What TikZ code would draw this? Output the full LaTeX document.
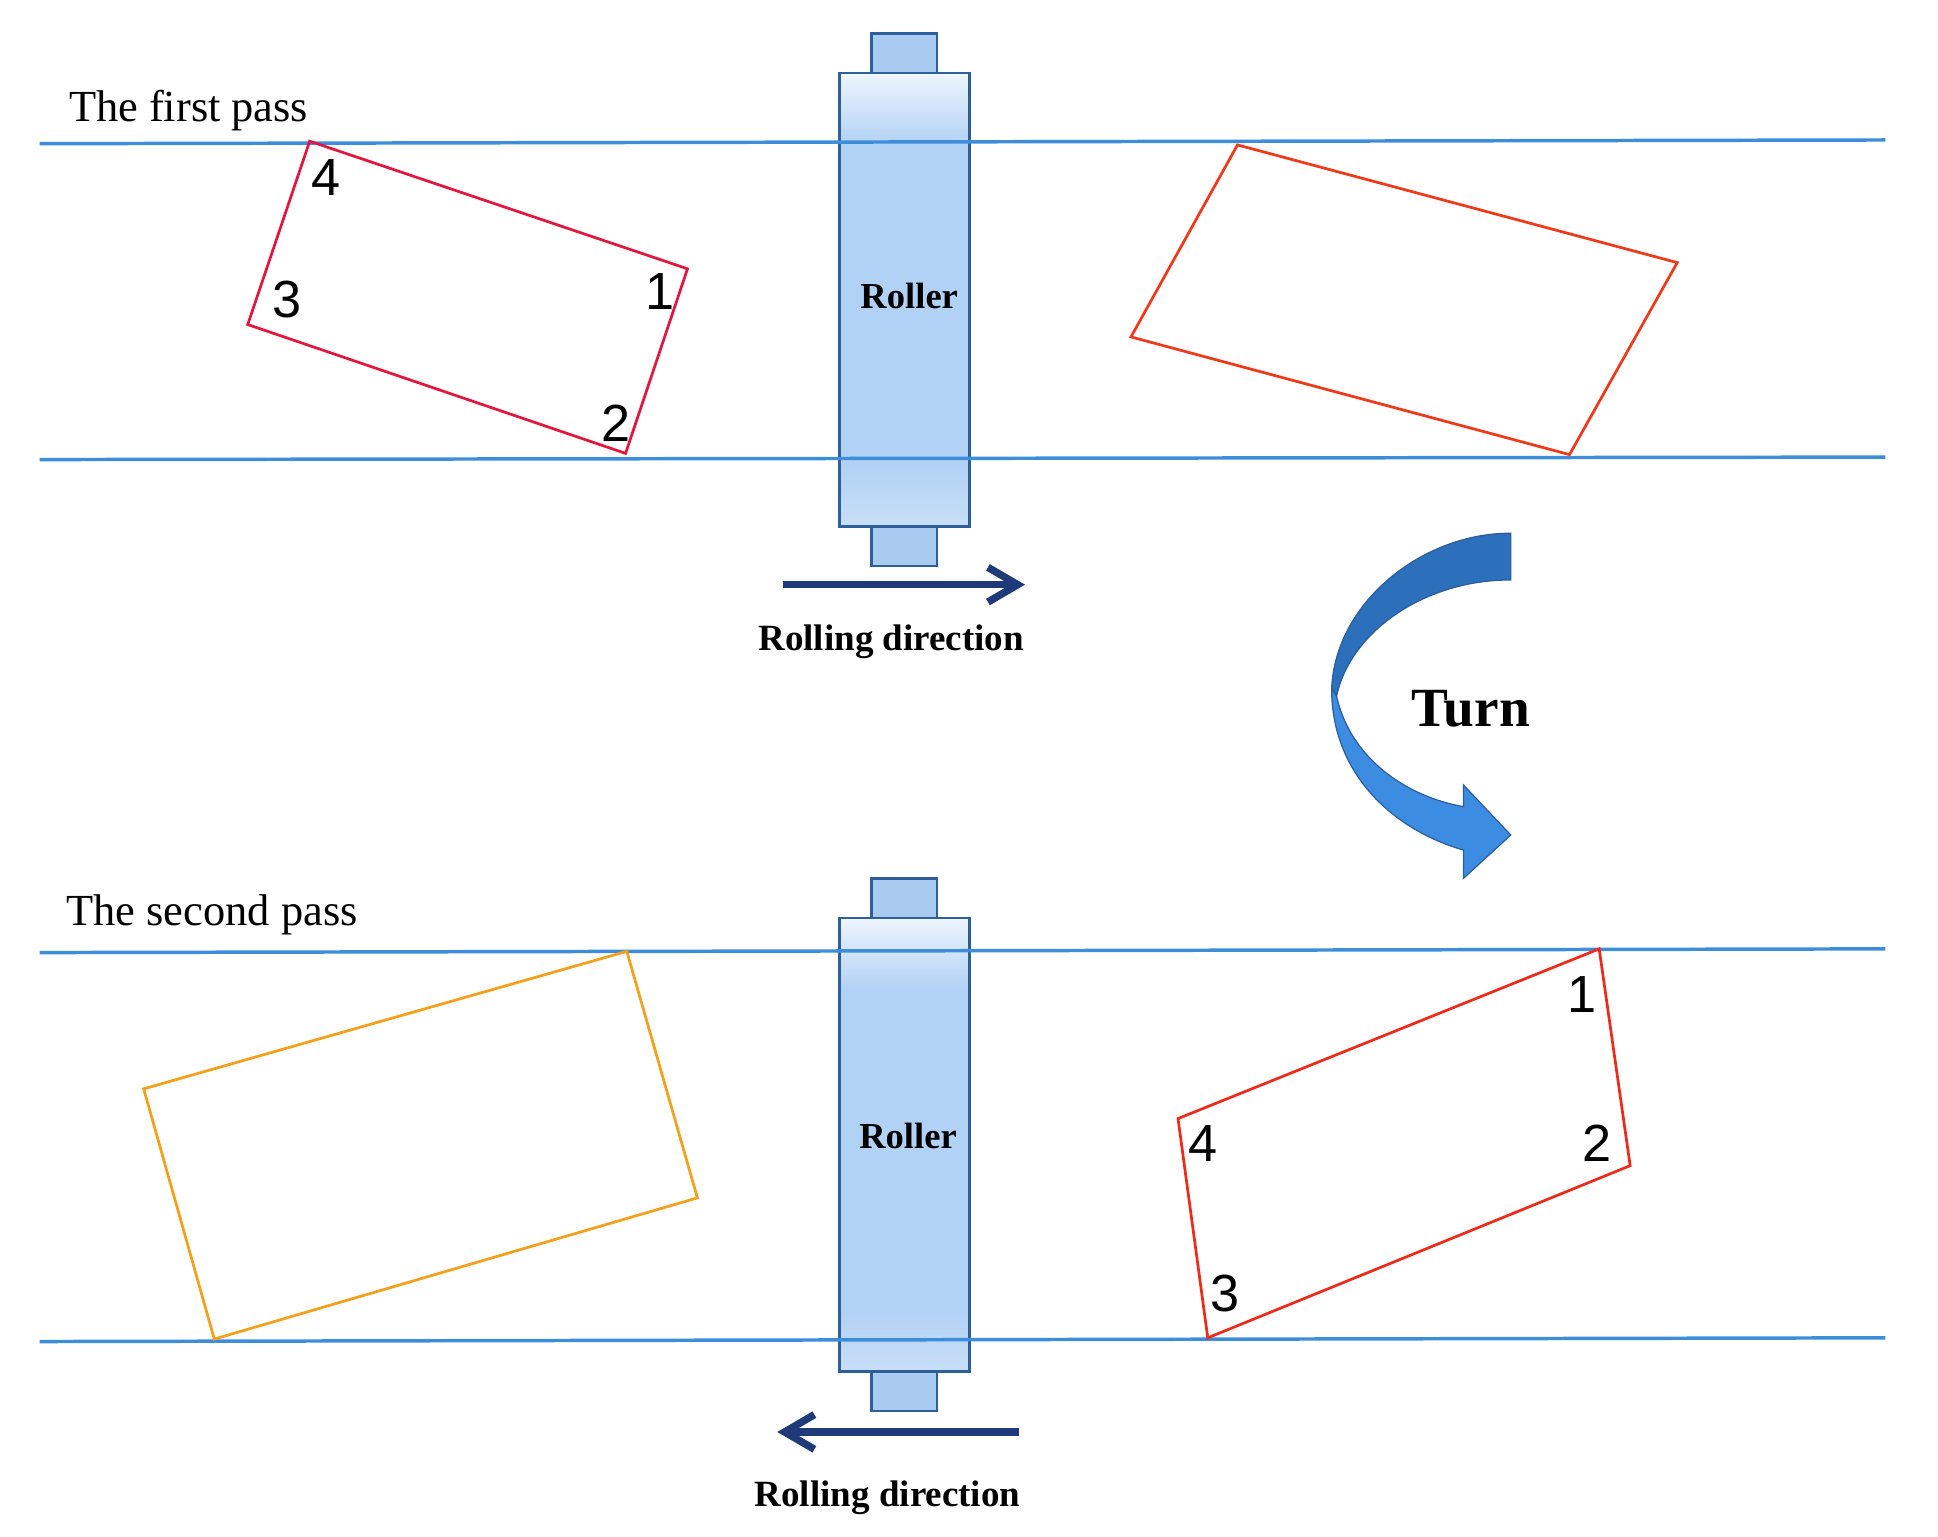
\documentclass[tikz,border=0pt]{standalone}
\usepackage{fontspec}
\setmainfont{Liberation Serif}
\setsansfont{Liberation Sans}
\usetikzlibrary{positioning, arrows.meta}

\definecolor{passblue}{HTML}{3E8DDB}
\definecolor{rollerline}{HTML}{2F5F9A}
\definecolor{rollertop}{HTML}{EEF5FD}
\definecolor{rollermid}{HTML}{B1D1F5}
\definecolor{rollerbot}{HTML}{C8DEF7}
\definecolor{capfill}{HTML}{A9CBF0}
\definecolor{dirnavy}{HTML}{1E3A78}
\definecolor{sampleA}{HTML}{E3173E}
\definecolor{sampleB}{HTML}{F0391A}
\definecolor{sampleC}{HTML}{F5A01A}
\definecolor{sampleD}{HTML}{EE2A1A}
\definecolor{turnback}{HTML}{2C6FBA}
\definecolor{turnfront}{HTML}{3C8DE2}
\definecolor{turnline}{HTML}{2C5E9E}

\pgfdeclareverticalshading{rollershade}{100bp}{color(0bp)=(rollerbot); color(25bp)=(rollerbot);
color(32bp)=(rollermid); color(67bp)=(rollermid); color(75bp)=(rollertop); color(100bp)=(rollertop)}

\begin{document}
\begin{tikzpicture}[x=0.1mm, y=-0.1mm,
	passline/.style={draw=passblue, line width=0.28mm},
	sample/.style={line width=0.22mm, line join=miter},
	rollerbody/.style={draw=rollerline, line width=0.22mm, shade, shading=rollershade, rectangle,
		minimum width=10.5mm, minimum height=36.6mm, outer sep=0pt, inner sep=0pt},
	rollercap/.style={draw=rollerline, line width=0.22mm, fill=capfill, rectangle,
		minimum width=5.3mm, minimum height=3.2mm, outer sep=0pt},
	rollertext/.style={anchor=base, inner sep=0pt, font=\bfseries\fontsize{8.4pt}{10pt}\selectfont},
	dirarrow/.style={draw=dirnavy, line width=0.6mm, -{Straight Barb[length=2.4mm, width=2.8mm]}},
	dirlabel/.style={anchor=base, inner sep=0pt, font=\bfseries\fontsize{8.5pt}{10pt}\selectfont},
	passlabel/.style={anchor=base west, inner sep=0pt, font=\fontsize{10.2pt}{12pt}\selectfont},
	cornerlabel/.style={inner sep=0pt, font=\sffamily\fontsize{12pt}{14pt}\selectfont}]

	\useasboundingbox (0,0) rectangle (1564.5,1240);

	%Rollers
	\node (rollerOne) at (730,242) [rollerbody]{};
	\node (rollerOneTop) [rollercap, above=0pt of rollerOne]{};
	\node (rollerOneBottom) [rollercap, below=0pt of rollerOne]{};
	\node (rollerOneText) at (734,249) [rollertext]{Roller};

	\node (rollerTwo) at (730,924) [rollerbody]{};
	\node (rollerTwoTop) [rollercap, above=0pt of rollerTwo]{};
	\node (rollerTwoBottom) [rollercap, below=0pt of rollerTwo]{};
	\node (rollerTwoText) at (733,927) [rollertext]{Roller};

	%Pass lines
	\draw[passline] (32,116) -- (1522,113);
	\draw[passline] (32,371) -- (1522,369);
	\draw[passline] (32,769) -- (1522,766);
	\draw[passline] (32,1083) -- (1522,1080);

	%Pass titles
	\node (firstPass) at (55,98) [passlabel]{The first pass};
	\node (secondPass) at (53,747) [passlabel]{The second pass};

	%Samples, first pass
	\draw[sample, draw=sampleA] (250,114) -- (555,217) -- (505,366) -- (200,262) -- cycle;
	\node (cornerOneFour) at (263,143) [cornerlabel]{4};
	\node (cornerOneOne) at (533,235) [cornerlabel]{1};
	\node (cornerOneTwo) at (497,342) [cornerlabel]{2};
	\node (cornerOneThree) at (232,242) [cornerlabel]{3};

	\draw[sample, draw=sampleB] (999,117) -- (1354,212) -- (1267,367) -- (913,272) -- cycle;

	%Samples, second pass
	\draw[sample, draw=sampleC] (506,768) -- (563,967) -- (173,1081) -- (116,879) -- cycle;

	\draw[sample, draw=sampleD] (1291,766) -- (1316,941) -- (975,1080) -- (951,903) -- cycle;
	\node (cornerTwoOne) at (1277,803) [cornerlabel]{1};
	\node (cornerTwoTwo) at (1289,923) [cornerlabel]{2};
	\node (cornerTwoFour) at (971,923) [cornerlabel]{4};
	\node (cornerTwoThree) at (989,1044) [cornerlabel]{3};

	%Rolling direction
	\coordinate (dirOneStart) at (632,472);
	\coordinate (dirOneEnd) at (827.5,472);
	\draw[dirarrow] (dirOneStart) -- (dirOneEnd);
	\node (dirOneLabel) at (719.5,524.8) [dirlabel]{Rolling direction};

	\coordinate (dirTwoStart) at (823,1156);
	\coordinate (dirTwoEnd) at (627.5,1156);
	\draw[dirarrow] (dirTwoStart) -- (dirTwoEnd);
	\node (dirTwoLabel) at (716.5,1215.8) [dirlabel]{Rolling direction};

	%Turn arrow
	\filldraw[fill=turnback, draw=turnline, line width=0.1mm] (1219.6,430.5)
		.. controls (1150,430) and (1078,485) .. (1075,556) -- (1079,562)
		.. controls (1090,510) and (1150,468) .. (1219.6,468.2) -- cycle;
	\filldraw[fill=turnfront, draw=turnline, line width=0.1mm] (1075,556)
		.. controls (1075,625) and (1125,670) .. (1181.4,686.2) -- (1181.4,709.1)
		-- (1219.6,674.1) -- (1181.4,633.7) -- (1181.4,651.2)
		.. controls (1135,643) and (1090,612) .. (1079,562) -- cycle;
	\node (turnLabel) at (1187.4,586.6) [anchor=base, inner sep=0pt,
		font=\bfseries\fontsize{12.7pt}{15pt}\selectfont]{Turn};

\end{tikzpicture}
\end{document}
